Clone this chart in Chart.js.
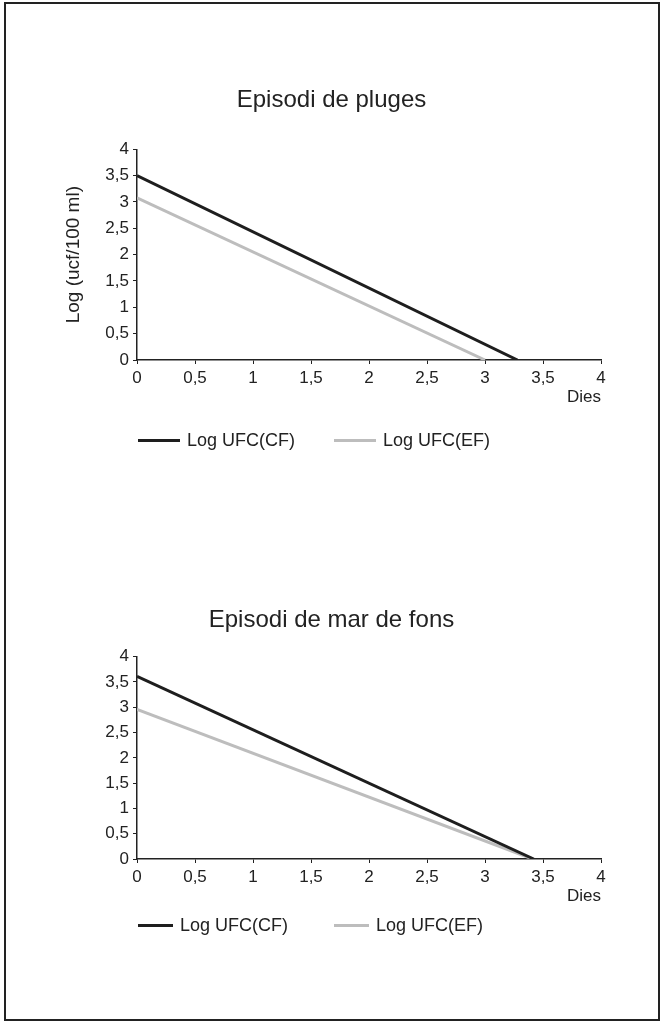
<!DOCTYPE html>
<html>
<head>
<meta charset="utf-8">
<script src="https://cdn.jsdelivr.net/npm/chart.js@4.4.1/dist/chart.umd.min.js"></script>
<style>
  body { margin: 0; background: #fff; width: 663px; height: 1024px; position: relative; overflow: hidden;
         font-family: "Liberation Sans", Arial, sans-serif; color: #222; }
  .frame { position: absolute; left: 4px; top: 2px; width: 656px; height: 1019px; border: 2px solid #222; box-sizing: border-box; }
  .box { position: absolute; left: 0; width: 663px; height: 480px; }
  .legend { position: absolute; left: 0; width: 663px; height: 24px; font-size: 18px; }
  .legend .item { position: absolute; top: 0; display: flex; align-items: center; height: 24px; white-space: nowrap; }
  .legend .swatch { display: inline-block; height: 3px; }
</style>
</head>
<body>
<div class="frame"></div>
<div class="box" style="top:0"><canvas id="chartPluges"></canvas></div>
<div class="legend" id="legendPluges" style="top:428px"></div>
<div class="box" style="top:512px"><canvas id="chartMar"></canvas></div>
<div class="legend" id="legendMar" style="top:913px"></div>
<script>
const xTicks = [0, 0.5, 1, 1.5, 2, 2.5, 3, 3.5, 4];
const xTickLabels = ['0', '0,5', '1', '1,5', '2', '2,5', '3', '3,5', '4'];
const yTicks = [0, 0.5, 1, 1.5, 2, 2.5, 3, 3.5, 4];
const yTickLabels = ['0', '0,5', '1', '1,5', '2', '2,5', '3', '3,5', '4'];

const seriesNames = ['Log UFC(CF)', 'Log UFC(EF)'];
const seriesColors = ['#1e1e1e', '#bdbdbd'];

// Episodi de pluges
const plugesDiesCF = [0, 3.28];
const plugesLogCF = [3.5, 0];
const plugesDiesEF = [0, 3.0];
const plugesLogEF = [3.08, 0];

// Episodi de mar de fons
const marDiesCF = [0, 3.42];
const marLogCF = [3.61, 0];
const marDiesEF = [0, 3.41];
const marLogEF = [2.96, 0];

const FONT = '"Liberation Sans", Arial, sans-serif';
const INK = '#222';

function points(xs, ys) {
  return xs.map((x, i) => ({ x: x, y: ys[i] }));
}

function makeChart(id, title, titlePad, bottomPad, yTitle, series) {
  const ctx = document.getElementById(id).getContext('2d');
  return new Chart(ctx, {
    type: 'line',
    data: {
      datasets: series.map((s, i) => ({
        label: seriesNames[i],
        data: s,
        borderColor: seriesColors[i],
        borderWidth: 3,
        pointRadius: 0,
        tension: 0,
        fill: false
      }))
    },
    options: {
      responsive: true,
      maintainAspectRatio: false,
      animation: false,
      layout: { padding: { left: 0, right: 0, top: 0, bottom: bottomPad } },
      plugins: {
        legend: { display: false },
        tooltip: { enabled: false },
        title: {
          display: true,
          text: title,
          color: INK,
          font: { family: FONT, size: 24, weight: 'normal' },
          padding: titlePad
        }
      },
      scales: {
        x: {
          type: 'linear',
          min: 0,
          max: 4,
          afterBuildTicks: scale => { scale.ticks = xTicks.map(v => ({ value: v })); },
          afterFit: scale => { scale.height = 48; },
          ticks: {
            color: INK,
            padding: 4,
            maxRotation: 0,
            font: { family: FONT, size: 17 },
            callback: (v, i) => xTickLabels[i]
          },
          grid: { display: true, drawOnChartArea: false, drawTicks: true, tickLength: 4, color: INK },
          border: { display: true, color: INK, width: 1.5 },
          title: {
            display: true,
            text: 'Dies',
            align: 'end',
            color: INK,
            font: { family: FONT, size: 17 },
            padding: { top: 7, bottom: 0 }
          }
        },
        y: {
          min: 0,
          max: 4,
          afterBuildTicks: scale => { scale.ticks = yTicks.map(v => ({ value: v })); },
          afterFit: scale => { scale.width = 137; },
          ticks: {
            color: INK,
            padding: 4,
            font: { family: FONT, size: 17 },
            callback: (v, i) => yTickLabels[i]
          },
          grid: { display: true, drawOnChartArea: false, drawTicks: true, tickLength: 4, color: INK },
          border: { display: true, color: INK, width: 1.5 },
          title: {
            display: yTitle !== '',
            text: yTitle,
            color: INK,
            font: { family: FONT, size: 19 },
            padding: { top: 62, bottom: 0 }
          }
        },
        // empty right-hand margin so the title centres on the whole page
        margin: {
          position: 'right',
          min: 0,
          max: 1,
          afterFit: scale => { scale.width = 62; },
          ticks: { display: false },
          grid: { display: false },
          border: { display: false }
        }
      }
    }
  });
}

function makeLegend(id, lefts, lineWidth) {
  const el = document.getElementById(id);
  seriesNames.forEach((name, i) => {
    const item = document.createElement('div');
    item.className = 'item';
    item.style.left = lefts[i] + 'px';
    const sw = document.createElement('span');
    sw.className = 'swatch';
    sw.style.width = lineWidth + 'px';
    sw.style.background = seriesColors[i];
    sw.style.marginRight = '7px';
    item.appendChild(sw);
    item.appendChild(document.createTextNode(name));
    el.appendChild(item);
  });
}

makeChart('chartPluges', 'Episodi de pluges', { top: 85.6, bottom: 34.9 }, 72, 'Log (ucf/100 ml)',
  [points(plugesDiesCF, plugesLogCF), points(plugesDiesEF, plugesLogEF)]);
makeChart('chartMar', 'Episodi de mar de fons', { top: 93.6, bottom: 22.3 }, 85, '',
  [points(marDiesCF, marLogCF), points(marDiesEF, marLogEF)]);

makeLegend('legendPluges', [138, 334], 42);
makeLegend('legendMar', [138, 334], 35);
</script>
</body>
</html>
